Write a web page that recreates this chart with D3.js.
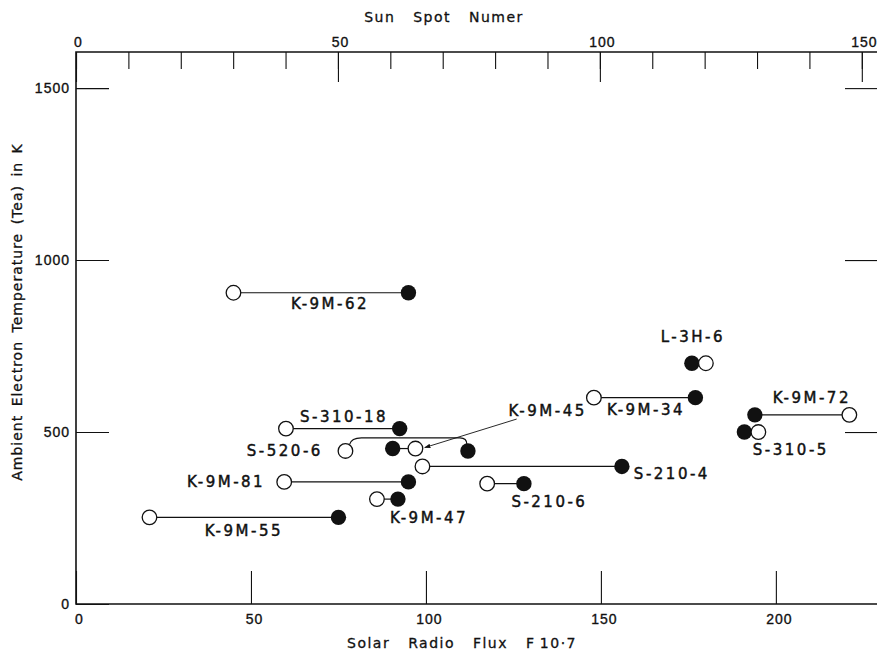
<!DOCTYPE html>
<html>
<head>
<meta charset="utf-8">
<script src="https://cdn.jsdelivr.net/npm/d3@7"></script>
<style>
  body { margin: 0; background: #fff; }
  svg { display: block; font-family: "DejaVu Sans", sans-serif; }
  .tick text { font-size: 14px; letter-spacing: 1px; fill: #111; stroke: #111; stroke-width: 0.35; }
  .tick line { stroke: #111; stroke-width: 1.1; }
  .domain { display: none; }
  .lbl { font-size: 15px; letter-spacing: 2.5px; fill: #111; stroke: #111; stroke-width: 0.45; }
  .title { font-size: 14px; letter-spacing: 1.5px; word-spacing: 12px; fill: #111; stroke: #111; stroke-width: 0.3; }
</style>
</head>
<body>
<svg id="chart" width="878" height="663"></svg>
<script>
// rocket flights: open circle = one flux value, filled circle = the other
var missions   = ['K-9M-62', 'L-3H-6', 'K-9M-34', 'K-9M-72', 'S-310-5', 'S-310-18', 'S-520-6',
                  'K-9M-45', 'S-210-4', 'K-9M-81', 'S-210-6', 'K-9M-47', 'K-9M-55'];
var fluxOpen   = [45, 180, 148, 221, 195, 60, 77, 97, 99, 59.5, 117.5, 86, 21];
var fluxFilled = [95, 176, 177, 194, 191, 92.5, 112, 90.5, 156, 95, 128, 92, 75];
var tempK      = [905, 700, 600, 550, 500, 510, 445, 452, 400, 355, 350, 305, 252];

// where each label sits, in data units (flux, temp)
var labelFlux  = [72.3, 176, 162.6, 210, 204, 76.3, 59.4, 134.5, 170, 42.6, 135, 100.6, 47.7];
var labelTemp  = [872, 776, 564, 599, 448, 544, 445, 561, 378, 355, 297, 250, 212];

var bracketed = ['S-520-6'];
var arrowed = 'K-9M-45';

var fluxTicks = [0, 50, 100, 150, 200];
var sunMajor = [0, 50, 100, 150];
var sunMinor = d3.range(0, 151, 10);
var tempTicks = [0, 500, 1000, 1500];

var padL = 76, padR = 877, padT = 52, padB = 604;

var svg = d3.select('#chart');

var x = d3.scaleLinear().domain([0, 228.9]).range([padL, padR]);
var xSun = d3.scaleLinear().domain([0, 152.9]).range([padL, padR]);
var y = d3.scaleLinear().domain([0, 1605]).range([padB, padT]);

// frame lines
svg.append('path')
  .attr('d', 'M' + padR + ',' + padT + 'H' + padL + 'V' + padB + 'H' + padR)
  .attr('fill', 'none').attr('stroke', '#111').attr('stroke-width', 1.6);

// bottom axis, ticks pointing up into the plot
svg.append('g')
  .attr('transform', 'translate(0,' + padB + ')')
  .call(d3.axisBottom(x).tickValues(fluxTicks).tickSizeInner(-33).tickSizeOuter(0).tickPadding(10))
  .selectAll('.tick text').attr('dx', 3);

// top axis, minor and major ticks pointing down
svg.append('g')
  .attr('transform', 'translate(0,' + padT + ')')
  .call(d3.axisTop(xSun).tickValues(sunMinor).tickSizeInner(-17).tickSizeOuter(0).tickFormat(''));
svg.append('g')
  .attr('transform', 'translate(0,' + padT + ')')
  .call(d3.axisTop(xSun).tickValues(sunMajor).tickSizeInner(-30).tickSizeOuter(0).tickPadding(5))
  .selectAll('.tick text').attr('dx', 2);

// left axis
svg.append('g')
  .attr('transform', 'translate(' + padL + ',0)')
  .call(d3.axisLeft(y).tickValues(tempTicks).tickFormat(d3.format('d'))
    .tickSizeInner(-33).tickSizeOuter(0).tickPadding(6));

// right edge ticks
svg.append('g')
  .attr('transform', 'translate(' + padR + ',0)')
  .call(d3.axisRight(y).tickValues(tempTicks.slice(1)).tickSizeInner(-32).tickSizeOuter(0).tickFormat(''));

// axis titles
svg.append('text').attr('class', 'title')
  .attr('x', 444).attr('y', 22).attr('text-anchor', 'middle')
  .text('Sun Spot Numer');
svg.append('text').attr('class', 'title')
  .attr('x', 462).attr('y', 648).attr('text-anchor', 'middle')
  .text('Solar Radio Flux F\u200910·7');
svg.append('text').attr('class', 'title')
  .attr('transform', 'translate(22,312) rotate(-90)')
  .attr('text-anchor', 'middle')
  .style('word-spacing', '3px')
  .style('letter-spacing', '1px')
  .text('Ambient Electron Temperature (Tea) in K');

var data = missions.map(function (m, i) {
  return { name: m, open: fluxOpen[i], filled: fluxFilled[i], t: tempK[i],
           lx: labelFlux[i], lt: labelTemp[i] };
});

var r = 7.3;

// connectors
var g = svg.append('g');
data.forEach(function (d) {
  var yy = y(d.t), xo = x(d.open), xf = x(d.filled);
  if (bracketed.indexOf(d.name) >= 0) {
    var yt = yy - 13;
    g.append('path')
      .attr('d', 'M' + (xo + 4) + ',' + (yy - r + 1) +
        'Q' + (xo + 6) + ',' + yt + ' ' + (xo + 16) + ',' + yt +
        'L' + (xf - 8) + ',' + yt +
        'Q' + (xf - 1) + ',' + yt + ' ' + (xf - 1) + ',' + (yy - r + 1))
      .attr('fill', 'none').attr('stroke', '#111').attr('stroke-width', 1.2);
  } else {
    g.append('line')
      .attr('x1', xo).attr('x2', xf).attr('y1', yy).attr('y2', yy)
      .attr('stroke', '#111').attr('stroke-width', 1.2);
  }
});

g.selectAll('circle.filled')
  .data(data).enter().append('circle')
  .attr('class', 'filled')
  .attr('cx', function (d) { return x(d.filled); })
  .attr('cy', function (d) { return y(d.t); })
  .attr('r', r + 0.4)
  .attr('fill', '#111');

g.selectAll('circle.open')
  .data(data).enter().append('circle')
  .attr('class', 'open')
  .attr('cx', function (d) { return x(d.open); })
  .attr('cy', function (d) { return y(d.t); })
  .attr('r', r)
  .attr('fill', '#fff').attr('stroke', '#111').attr('stroke-width', 1.3);

// labels
svg.selectAll('text.lbl')
  .data(data).enter().append('text')
  .attr('class', 'lbl')
  .attr('x', function (d) { return x(d.lx) + 1; })
  .attr('y', function (d) { return y(d.lt); })
  .attr('text-anchor', 'middle')
  .attr('dominant-baseline', 'central')
  .text(function (d) { return d.name; });

// arrow from K-9M-45 label to its open circle
svg.append('defs').append('marker')
  .attr('id', 'head').attr('viewBox', '0 0 10 10')
  .attr('refX', 9).attr('refY', 5)
  .attr('markerWidth', 7).attr('markerHeight', 7)
  .attr('orient', 'auto')
  .append('path').attr('d', 'M0,1.5L10,5L0,8.5Z').attr('fill', '#111');

var a = data.filter(function (d) { return d.name === arrowed; })[0];
svg.append('line')
  .attr('x1', x(a.lx) - 30).attr('y1', y(a.lt) + 8)
  .attr('x2', x(a.open) + r + 2).attr('y2', y(a.t) - 1)
  .attr('stroke', '#111').attr('stroke-width', 0.9)
  .attr('marker-end', 'url(#head)');
</script>
</body>
</html>
